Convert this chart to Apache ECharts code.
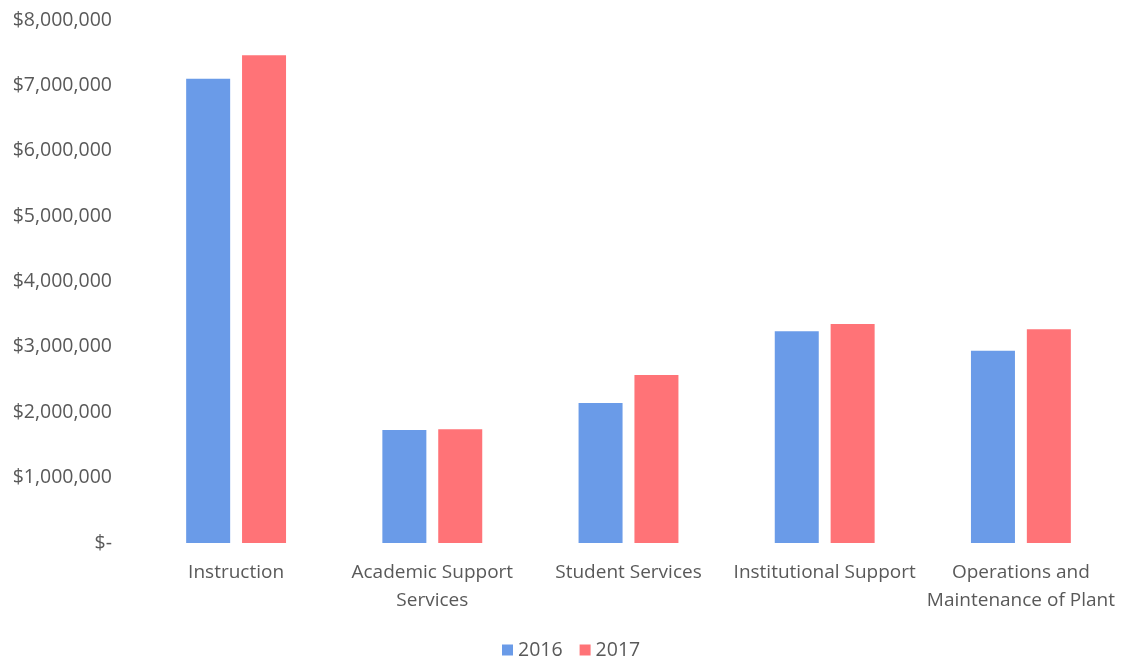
<!DOCTYPE html>
<html>
<head>
<meta charset="utf-8">
<script src="https://cdn.jsdelivr.net/npm/echarts@6/dist/echarts.min.js"></script>
<style>
html,body{margin:0;padding:0;background:#fff;}
#chart{width:1122px;height:658px;}
</style>
</head>
<body>
<div id="chart"></div>
<script>
var categories = ["Instruction", "Academic Support\nServices", "Student Services", "Institutional Support", "Operations and\nMaintenance of Plant"];
var values2016 = [7100000, 1730000, 2140000, 3240000, 2940000];
var values2017 = [7460000, 1740000, 2570000, 3350000, 3270000];
var seriesNames = ["2016", "2017"];

function fmt(v) {
  if (v === 0) return "$-";
  var s = String(Math.round(v));
  return "$" + s.replace(/\B(?=(\d{3})+(?!\d))/g, ",");
}

var chart = echarts.init(document.getElementById('chart'));
chart.setOption({
  animation: false,
  textStyle: { fontFamily: "Open Sans", color: "#595959" },
  grid: { left: 138, right: 3, top: 20, bottom: 115 },
  legend: {
    top: 635, left: 497,
    itemWidth: 11, itemHeight: 11, itemGap: 17,
    icon: 'rect',
    textStyle: { fontSize: 19.5, color: "#595959", fontFamily: "Open Sans" },
    data: seriesNames
  },
  xAxis: {
    type: 'category',
    data: categories,
    axisLine: { show: false },
    axisTick: { show: false },
    axisLabel: { fontSize: 19, color: "#595959", margin: 16, lineHeight: 28, interval: 0 }
  },
  yAxis: {
    type: 'value',
    min: 0, max: 8000000, interval: 1000000,
    splitLine: { show: false },
    axisLine: { show: false },
    axisTick: { show: false },
    axisLabel: { fontSize: 19.5, color: "#595959", margin: 26, formatter: fmt }
  },
  series: [
    { name: seriesNames[0], type: 'bar', data: values2016, barWidth: 44, barGap: '27%', itemStyle: { color: '#6a9be8' } },
    { name: seriesNames[1], type: 'bar', data: values2017, barWidth: 44, itemStyle: { color: '#ff7377' } }
  ]
});
</script>
</body>
</html>
